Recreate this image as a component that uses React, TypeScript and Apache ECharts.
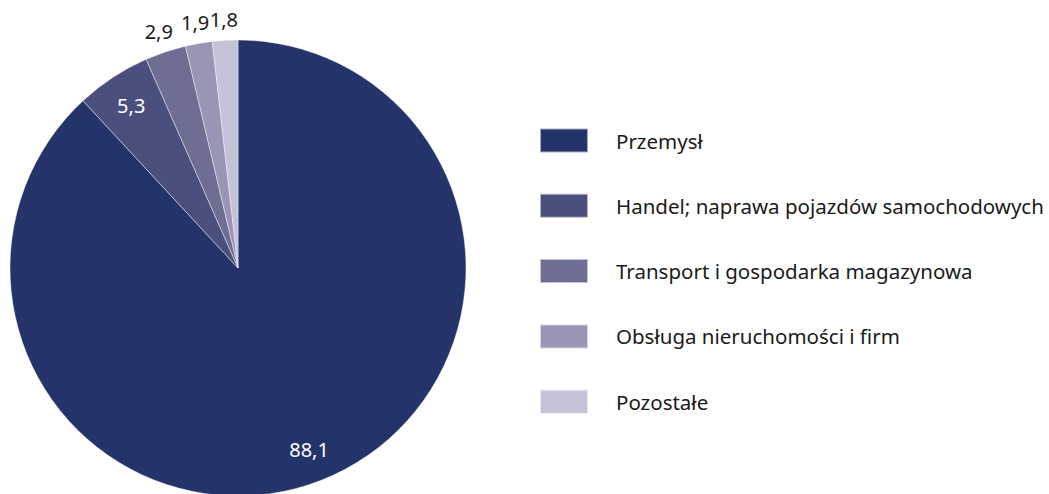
import React, { useEffect, useRef } from "react";
import * as echarts from "echarts";

const categories = [
  "Przemysł",
  "Handel; naprawa pojazdów samochodowych",
  "Transport i gospodarka magazynowa",
  "Obsługa nieruchomości i firm",
  "Pozostałe",
];
const values = [88.1, 5.3, 2.9, 1.9, 1.8];
const colors = ["#24346b", "#4a4f7e", "#6e6d93", "#9895b5", "#c4c2d6"];
const insideLabelCount = 2;

const FONT = "'Noto Sans', sans-serif";
const CX = 238;
const CY = 268;
const R = 228;

const fmt = (p: any) => String(p.value).replace(".", ",");

export default function App() {
  const ref = useRef<HTMLDivElement>(null);
  useEffect(() => {
    document.body.style.margin = "0";
    if (!ref.current) return;
    const chart = echarts.init(ref.current, null, { renderer: "svg" });
    const mainData = categories.map((name, i) => ({
      name,
      value: values[i],
      itemStyle: { color: colors[i] },
    }));
    const innerData = categories.map((name, i) => ({
      name,
      value: values[i],
      label: { show: i < insideLabelCount },
    }));
    const outerData = categories.map((name, i) => ({
      name,
      value: values[i],
      label: { show: i >= insideLabelCount },
    }));
    const overlayBase = {
      type: "pie" as const,
      center: [CX, CY],
      startAngle: 90,
      clockwise: true,
      silent: true,
      avoidLabelOverlap: false,
      itemStyle: { color: "transparent", borderWidth: 0 },
      labelLine: { show: false },
      emphasis: { disabled: true },
    };
    chart.setOption({
      animation: false,
      legend: {
        orient: "vertical",
        left: 539,
        top: 127.5,
        padding: 0,
        itemWidth: 48,
        itemHeight: 24,
        itemGap: 39.3,
        icon: "rect",
        data: categories,
        selectedMode: false,
        textStyle: {
          fontFamily: FONT,
          fontSize: 20.5,
          color: "#1a1a1a",
          padding: [0, 0, 0, 23],
          lineHeight: 24,
        },
      },
      series: [
        {
          type: "pie",
          center: [CX, CY],
          radius: [0, R],
          startAngle: 90,
          clockwise: true,
          data: mainData,
          label: { show: false },
          labelLine: { show: false },
          itemStyle: { borderColor: "rgba(255,255,255,0.6)", borderWidth: 0.7 },
          emphasis: { disabled: true },
        },
        {
          ...overlayBase,
          radius: [R * 0.68, R],
          data: innerData,
          label: {
            position: "inside",
            formatter: fmt,
            color: "#ffffff",
            fontFamily: FONT,
            fontSize: 20,
          },
        },
        {
          ...overlayBase,
          radius: [R, R * 1.16],
          data: outerData,
          label: {
            position: "inside",
            formatter: fmt,
            color: "#1a1a1a",
            fontFamily: FONT,
            fontSize: 20,
          },
        },
      ],
    });
    return () => chart.dispose();
  }, []);
  return <div ref={ref} style={{ width: 1049, height: 494 }} />;
}
